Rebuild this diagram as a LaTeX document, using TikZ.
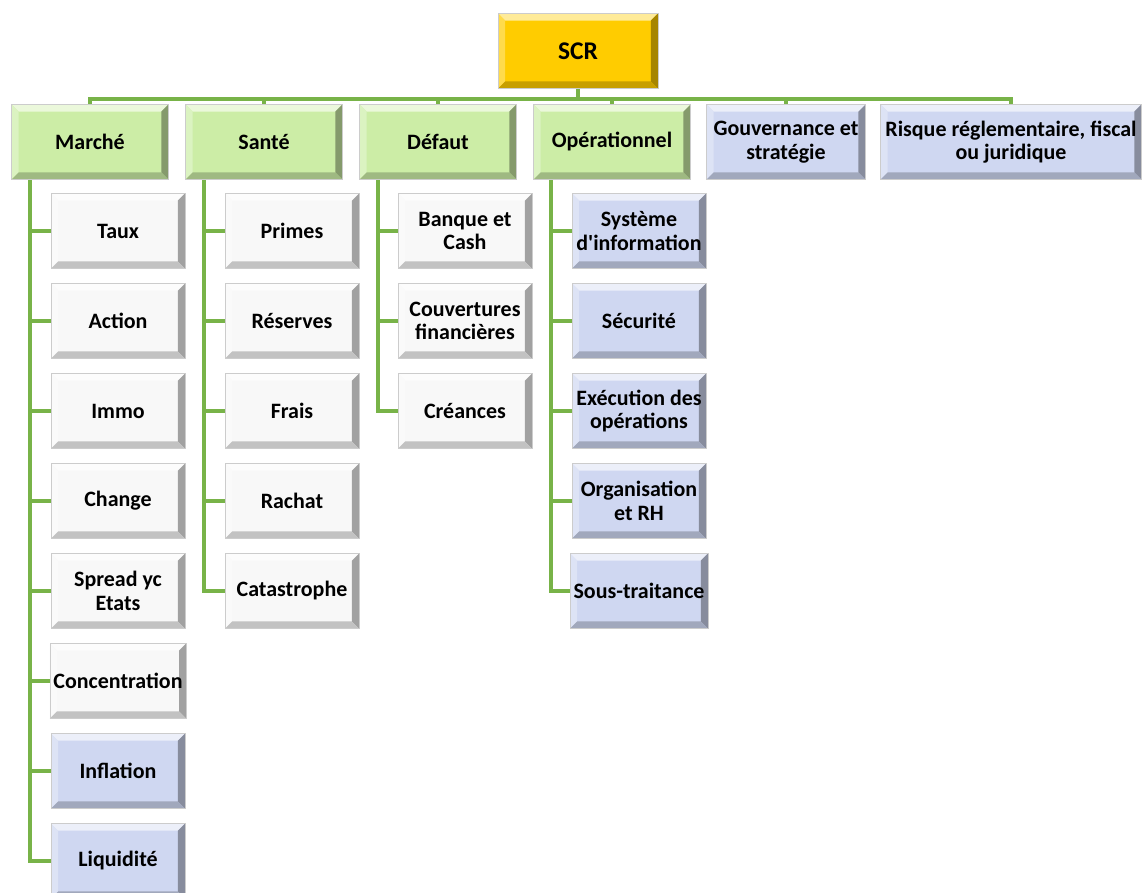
\documentclass[tikz,border=0pt]{standalone}
\usepackage{fontspec}
\setmainfont{Carlito}
\usetikzlibrary{positioning}

\definecolor{scrgold}{HTML}{FFCC00}
\definecolor{branchgreen}{HTML}{CCEDA6}
\definecolor{leafblue}{HTML}{CFD7F1}
\definecolor{leafwhite}{HTML}{F8F8F8}
\definecolor{linkgreen}{HTML}{78B348}

\tikzset{
  bevel/.style={rectangle, fill=#1, draw=black!20, line width=0.3pt,
    minimum height=1.5cm, inner sep=2pt, align=center,
    font=\fontsize{12.5}{13.5}\selectfont\bfseries,
    path picture={
      \fill[#1!40!white] (path picture bounding box.north west) -- (path picture bounding box.north east)
        -- ([shift={(-4pt,-4pt)}]path picture bounding box.north east) -- ([shift={(4pt,-4pt)}]path picture bounding box.north west) -- cycle;
      \fill[#1!70!white] (path picture bounding box.north west) -- (path picture bounding box.south west)
        -- ([shift={(4pt,4pt)}]path picture bounding box.south west) -- ([shift={(4pt,-4pt)}]path picture bounding box.north west) -- cycle;
      \fill[#1!65!black] (path picture bounding box.north east) -- (path picture bounding box.south east)
        -- ([shift={(-4pt,4pt)}]path picture bounding box.south east) -- ([shift={(-4pt,-4pt)}]path picture bounding box.north east) -- cycle;
      \fill[#1!78!black] (path picture bounding box.south west) -- (path picture bounding box.south east)
        -- ([shift={(-4pt,4pt)}]path picture bounding box.south east) -- ([shift={(4pt,4pt)}]path picture bounding box.south west) -- cycle;
    }},
  branch/.style={bevel=branchgreen, minimum width=3.14cm},
  leaf/.style={bevel=leafwhite, minimum width=2.68cm},
  newleaf/.style={bevel=leafblue, minimum width=2.68cm},
  link/.style={draw=linkgreen, line width=1.8pt}
}

\begin{document}
\begin{tikzpicture}[x=0.02cm,y=-0.02cm]
	\useasboundingbox (0,0) rectangle (1144,893);

	% top
	\node[bevel=scrgold, minimum width=3.2cm, font=\fontsize{14.5}{15}\selectfont\bfseries] (scr) at (578,51) {SCR};
	\coordinate (bar) at (578,99);

	% first level
	\node[branch] (marche) at (90,142) {Marché};
	\node[branch] (sante) at (264,142) {Santé};
	\node[branch] (defaut) at (438,142) {Défaut};
	\node[branch] (operationnel) at (612,142) {Opérationnel};
	\node[bevel=leafblue, minimum width=3.18cm] (gouvernance) at (786,142) {Gouvernance et\\stratégie};
	\node[bevel=leafblue, minimum width=5.22cm] (reglementaire) at (1011,142) {Risque réglementaire, fiscal\\ou juridique};

	\draw[link] (scr.south) -- (bar);
	\draw[link] (bar) -| (marche.north);
	\draw[link] (bar) -| (sante.north);
	\draw[link] (bar) -| (defaut.north);
	\draw[link] (bar) -| (operationnel.north);
	\draw[link] (bar) -| (gouvernance.north);
	\draw[link] (bar) -| (reglementaire.north);

	% Marche
	\node[leaf] (taux) at (118,231) {Taux};
	\node[leaf] (action) at (118,321) {Action};
	\node[leaf] (immo) at (118,411) {Immo};
	\node[leaf] (change) at (118,501) {Change};
	\node[leaf] (spread) at (118,591) {Spread yc\\Etats};
	\node[leaf] (concentration) at (118,681) {Concentration};
	\node[newleaf] (inflation) at (118,771) {Inflation};
	\node[newleaf] (liquidite) at (118,861) {Liquidité};
	\coordinate (trunkM) at (30,180);
	\foreach \c in {taux,action,immo,change,spread,concentration,inflation,liquidite}
		\draw[link] (trunkM) |- (\c.west);

	% Sante
	\node[leaf] (primes) at (292,231) {Primes};
	\node[leaf] (reserves) at (292,321) {Réserves};
	\node[leaf] (frais) at (292,411) {Frais};
	\node[leaf] (rachat) at (292,501) {Rachat};
	\node[leaf] (catastrophe) at (292,591) {Catastrophe};
	\coordinate (trunkS) at (204,180);
	\foreach \c in {primes,reserves,frais,rachat,catastrophe}
		\draw[link] (trunkS) |- (\c.west);

	% Defaut
	\node[leaf] (banque) at (465,231) {Banque et\\Cash};
	\node[leaf] (couvertures) at (465,321) {Couvertures\\financières};
	\node[leaf] (creances) at (465,411) {Créances};
	\coordinate (trunkD) at (378,180);
	\foreach \c in {banque,couvertures,creances}
		\draw[link] (trunkD) |- (\c.west);

	% Operationnel
	\node[newleaf] (systeme) at (639,231) {Système\\d\textquotesingle information};
	\node[newleaf] (securite) at (639,321) {Sécurité};
	\node[newleaf] (execution) at (639,411) {Exécution des\\opérations};
	\node[newleaf] (organisation) at (639,501) {Organisation\\et RH};
	\node[newleaf] (soustraitance) at (639,591) {Sous-traitance};
	\coordinate (trunkO) at (551,180);
	\foreach \c in {systeme,securite,execution,organisation,soustraitance}
		\draw[link] (trunkO) |- (\c.west);
\end{tikzpicture}
\end{document}
